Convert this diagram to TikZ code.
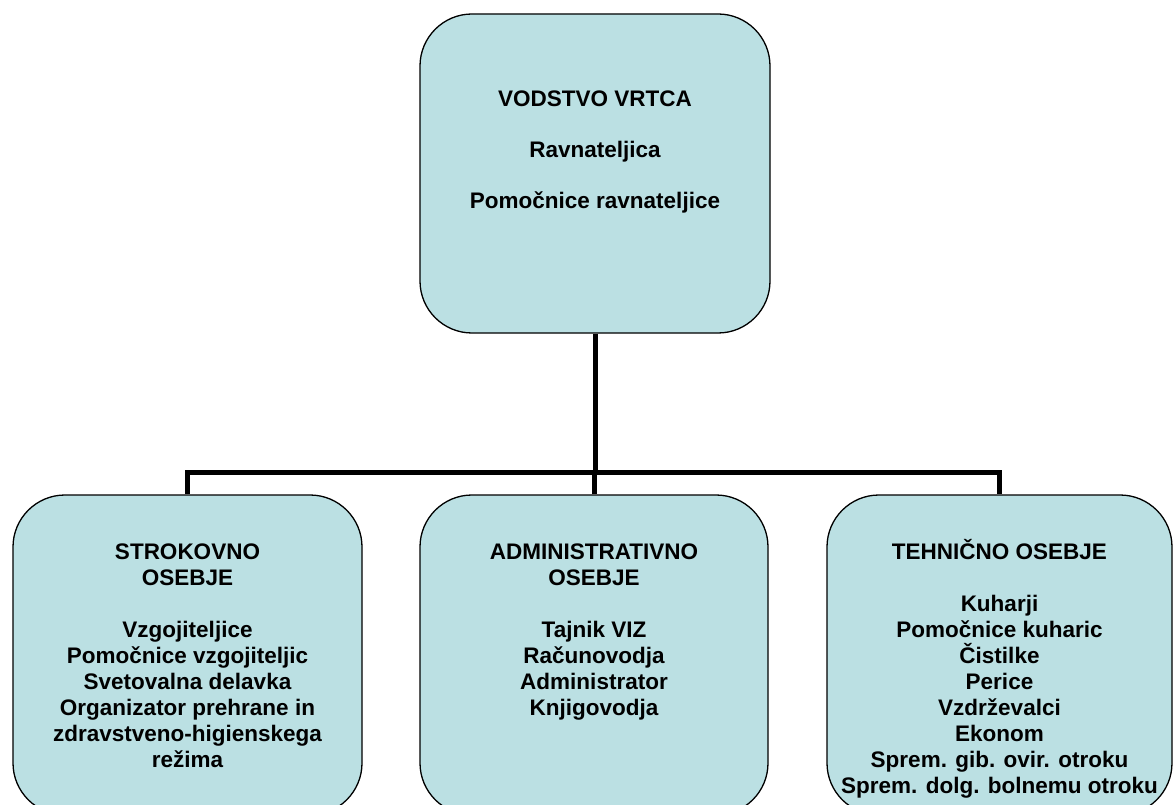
\documentclass[tikz,border=0pt]{standalone}
\usepackage{fontspec}
\setmainfont{Liberation Sans}
\definecolor{boxfill}{RGB}{187,224,227}
\begin{document}
\begin{tikzpicture}[x=1pt,y=-1pt,
  box/.style={draw=black, line width=1.3pt, fill=boxfill, rounded corners=52pt, inner sep=0pt, minimum height=320pt},
  lbl/.style={font=\bfseries\fontsize{22.5}{26}\selectfont, align=center, anchor=north, inner sep=0pt},
  link/.style={draw=black, line width=5pt, line join=miter}]
\clip (0,0) rectangle (1176,805);
\fill[white] (0,0) rectangle (1176,805);
% boxes
\node[box, minimum width=350pt, minimum height=319pt] (top) at (595,173.5) {};
\node[box, minimum width=349pt] (str) at (187.5,655) {};
\node[box, minimum width=348pt] (adm) at (594,655) {};
\node[box, minimum width=345pt] (teh) at (999.5,655) {};
% connectors
\coordinate (bus) at (0,472);
\draw[link] (top.south) -- (top.south |- bus);
\draw[link] (str.north) -- (str.north |- bus) -| (teh.north);
\draw[link] (adm.north) -- (adm.north |- bus);
% texts
\node[lbl] (toptext) at (595,84) {\rule{0pt}{22pt}VODSTVO VRTCA\\[25pt]Ravnateljica\\[25pt]Pomočnice ravnateljice};
\node[lbl] (strtext) at (187.5,537) {\rule{0pt}{22pt}STROKOVNO\\OSEBJE\\[26pt]Vzgojiteljice\\Pomočnice vzgojiteljic\\Svetovalna delavka\\Organizator prehrane in\\zdravstveno-higienskega\\režima};
\node[lbl] (admtext) at (594,537) {\rule{0pt}{22pt}ADMINISTRATIVNO\\OSEBJE\\[26pt]Tajnik VIZ\\Računovodja\\Administrator\\Knjigovodja};
\node[lbl] (tehtext) at (999.5,537) {\rule{0pt}{22pt}TEHNIČNO OSEBJE\\[26pt]Kuharji\\Pomočnice kuharic\\Čistilke\\Perice\\Vzdrževalci\\Ekonom\\Sprem. gib. ovir. otroku\\Sprem. dolg. bolnemu otroku};
\end{tikzpicture}
\end{document}
